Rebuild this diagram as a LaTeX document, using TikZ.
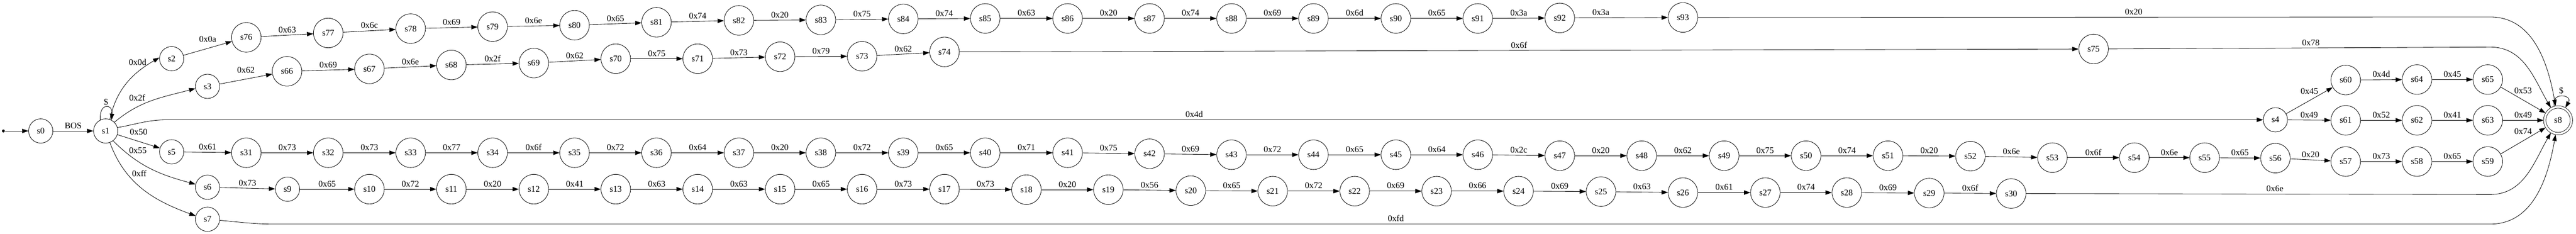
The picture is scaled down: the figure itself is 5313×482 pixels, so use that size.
\documentclass[tikz,border=0pt]{standalone}
\usepackage{fontspec}
\setmainfont{Liberation Serif}
\usetikzlibrary{arrows.meta,positioning,calc}

\begin{document}
\begin{tikzpicture}[
    x=1pt, y=1pt,
    >={Triangle[length=13pt, width=9pt]},
    line width=0.9pt,
    font=\fontsize{18}{21}\selectfont,
    state_node/.style={draw, circle, minimum size=50pt, inner sep=0pt},
    wide_node/.style={state_node, minimum size=61pt},
    final_node/.style={draw, circle, double, double distance=4pt, minimum size=55pt, inner sep=0pt, outer sep=2.5pt},
    start_node/.style={circle, fill, inner sep=0pt, minimum size=6pt},
    trans_edge/.style={->},
    edge_label/.style={above, inner sep=4.5pt},
    high_label/.style={edge_label, yshift=8pt}
]
\useasboundingbox (0,0) rectangle (5313,-482);

% --- NODES ---

% Entry
\node[start_node] (start) at (7,-270) {};
\node[state_node] (s0) at (84,-270) {s0};
\node[state_node] (s1) at (218,-270) {s1};

% Branch heads
\node[state_node] (s2) at (354,-121) {s2};
\node[state_node] (s3) at (428,-178) {s3};
\node[state_node] (s5) at (354,-313) {s5};
\node[state_node] (s6) at (428,-386) {s6};
\node[state_node] (s7) at (428,-452) {s7};

% ROW 1: 0x0d branch
\node[wide_node] (s76) at (508,-77) {s76};
\node[wide_node] (s77) at (677,-68) {s77};
\node[wide_node] (s78) at (847,-59) {s78};
\node[wide_node] (s79) at (1016,-55) {s79};
\node[wide_node] (s80) at (1185,-52) {s80};
\node[wide_node] (s81) at (1354,-46) {s81};
\node[wide_node] (s82) at (1524,-42) {s82};
\node[wide_node] (s83) at (1693,-41) {s83};
\node[wide_node] (s84) at (1863,-39) {s84};
\node[wide_node] (s85) at (2032,-38) {s85};
\node[wide_node] (s86) at (2202,-38) {s86};
\node[wide_node] (s87) at (2371,-38) {s87};
\node[wide_node] (s88) at (2540,-38) {s88};
\node[wide_node] (s89) at (2709,-38) {s89};
\node[wide_node] (s90) at (2879,-38) {s90};
\node[wide_node] (s91) at (3048,-38) {s91};
\node[wide_node] (s92) at (3217,-37) {s92};
\node[wide_node] (s93) at (3471,-36) {s93};

% ROW 2: 0x2f branch
\node[wide_node] (s66) at (592,-147) {s66};
\node[wide_node] (s67) at (762,-142) {s67};
\node[wide_node] (s68) at (931,-134) {s68};
\node[wide_node] (s69) at (1101,-130) {s69};
\node[wide_node] (s70) at (1270,-121) {s70};
\node[wide_node] (s71) at (1439,-121) {s71};
\node[wide_node] (s72) at (1609,-117) {s72};
\node[wide_node] (s73) at (1778,-116) {s73};
\node[wide_node] (s74) at (1948,-107) {s74};
\node[wide_node] (s75) at (4318,-101) {s75};

% ROW 3: 0x4d branch
\node[state_node] (s4) at (4693,-247) {s4};
\node[wide_node] (s60) at (4838,-165) {s60};
\node[wide_node] (s64) at (4985,-164) {s64};
\node[wide_node] (s65) at (5131,-164) {s65};
\node[wide_node] (s61) at (4838,-248) {s61};
\node[wide_node] (s62) at (4985,-248) {s62};
\node[wide_node] (s63) at (5131,-248) {s63};

% ROW 4: 0x50 branch
\node[wide_node] (s31) at (508,-315) {s31};
\node[wide_node] (s32) at (677,-315) {s32};
\node[wide_node] (s33) at (847,-315) {s33};
\node[wide_node] (s34) at (1016,-315) {s34};
\node[wide_node] (s35) at (1185,-315) {s35};
\node[wide_node] (s36) at (1354,-315) {s36};
\node[wide_node] (s37) at (1524,-315) {s37};
\node[wide_node] (s38) at (1693,-315) {s38};
\node[wide_node] (s39) at (1863,-315) {s39};
\node[wide_node] (s40) at (2032,-315) {s40};
\node[wide_node] (s41) at (2202,-315) {s41};
\node[wide_node] (s42) at (2371,-317) {s42};
\node[wide_node] (s43) at (2540,-319) {s43};
\node[wide_node] (s44) at (2709,-319) {s44};
\node[wide_node] (s45) at (2879,-319) {s45};
\node[wide_node] (s46) at (3048,-319) {s46};
\node[wide_node] (s47) at (3217,-321) {s47};
\node[wide_node] (s48) at (3386,-321) {s48};
\node[wide_node] (s49) at (3556,-321) {s49};
\node[wide_node] (s50) at (3725,-321) {s50};
\node[wide_node] (s51) at (3894,-321) {s51};
\node[wide_node] (s52) at (4064,-322) {s52};
\node[wide_node] (s53) at (4233,-325) {s53};
\node[wide_node] (s54) at (4402,-325) {s54};
\node[wide_node] (s55) at (4547,-325) {s55};
\node[wide_node] (s56) at (4693,-326) {s56};
\node[wide_node] (s57) at (4838,-333) {s57};
\node[wide_node] (s58) at (4985,-333) {s58};
\node[wide_node] (s59) at (5131,-333) {s59};

% ROW 5: 0x55 branch
\node[state_node] (s9) at (593,-390) {s9};
\node[wide_node] (s10) at (762,-390) {s10};
\node[wide_node] (s11) at (931,-390) {s11};
\node[wide_node] (s12) at (1101,-390) {s12};
\node[wide_node] (s13) at (1270,-390) {s13};
\node[wide_node] (s14) at (1439,-390) {s14};
\node[wide_node] (s15) at (1609,-390) {s15};
\node[wide_node] (s16) at (1778,-390) {s16};
\node[wide_node] (s17) at (1948,-390) {s17};
\node[wide_node] (s18) at (2117,-391) {s18};
\node[wide_node] (s19) at (2286,-391) {s19};
\node[wide_node] (s20) at (2456,-393) {s20};
\node[wide_node] (s21) at (2625,-394) {s21};
\node[wide_node] (s22) at (2794,-394) {s22};
\node[wide_node] (s23) at (2963,-394) {s23};
\node[wide_node] (s24) at (3132,-394) {s24};
\node[wide_node] (s25) at (3302,-395) {s25};
\node[wide_node] (s26) at (3471,-397) {s26};
\node[wide_node] (s27) at (3641,-397) {s27};
\node[wide_node] (s28) at (3809,-397) {s28};
\node[wide_node] (s29) at (3979,-398) {s29};
\node[wide_node] (s30) at (4148,-399) {s30};

% Accepting state
\node[final_node] (s8) at (5276,-248) {s8};

% Bends of the long edges
\coordinate (k4) at (345,-247);
\coordinate (k7a) at (567,-462);
\coordinate (k7b) at (5136,-462);
\coordinate (k93) at (5136,-35);
\coordinate (k75) at (5136,-97);
\coordinate (k30) at (5136,-401);

% --- EDGES ---

% 1. Entry
\draw[trans_edge] (start) -- (s0);
\draw[trans_edge] (s0) -- node[edge_label] {BOS} (s1);
\draw[trans_edge] (s1.116) to[out=95, in=85, looseness=3.9] node[above, inner sep=3pt] {\$} (s1.62);

% 2. Fan-out of s1
\draw[trans_edge] (s1.70) to[out=78, in=210] node[pos=0.83, above left, inner sep=0pt] {0x0d} (s2.175);
\draw[trans_edge] (s1.45) to[out=40, in=195] node[pos=0.3, above, inner sep=12pt] {0x2f} (s3.190);
\draw[trans_edge] (s1.16) to[out=10, in=180] (k4) -- node[edge_label, pos=0.49] {0x4d} (s4);
\draw[trans_edge] (s1) -- node[high_label] {0x50} (s5);
\draw[trans_edge] (s1.-53) to[out=-45, in=165] node[pos=0.2, above right, inner sep=1.5pt] {0x55} (s6.166);
\draw[trans_edge] (s1.-70) to[out=-70, in=160] node[pos=0.35, above right, inner sep=2pt] {0xff} (s7.164);

% 3. Row 1
\draw[trans_edge] (s2) -- node[high_label] {0x0a} (s76);
\draw[trans_edge] (s76) -- node[edge_label] {0x63} (s77);
\draw[trans_edge] (s77) -- node[edge_label] {0x6c} (s78);
\draw[trans_edge] (s78) -- node[edge_label] {0x69} (s79);
\draw[trans_edge] (s79) -- node[edge_label] {0x6e} (s80);
\draw[trans_edge] (s80) -- node[edge_label] {0x65} (s81);
\draw[trans_edge] (s81) -- node[edge_label] {0x74} (s82);
\draw[trans_edge] (s82) -- node[edge_label] {0x20} (s83);
\draw[trans_edge] (s83) -- node[edge_label] {0x75} (s84);
\draw[trans_edge] (s84) -- node[edge_label] {0x74} (s85);
\draw[trans_edge] (s85) -- node[edge_label] {0x63} (s86);
\draw[trans_edge] (s86) -- node[edge_label] {0x20} (s87);
\draw[trans_edge] (s87) -- node[edge_label] {0x74} (s88);
\draw[trans_edge] (s88) -- node[edge_label] {0x69} (s89);
\draw[trans_edge] (s89) -- node[edge_label] {0x6d} (s90);
\draw[trans_edge] (s90) -- node[edge_label] {0x65} (s91);
\draw[trans_edge] (s91) -- node[edge_label] {0x3a} (s92);
\draw[trans_edge] (s92) -- node[edge_label, pos=0.28] {0x3a} (s93);
\draw[trans_edge] (s93) -- node[edge_label, pos=0.55] {0x20} (k93) to[out=0, in=100] (s8);

% 4. Row 2
\draw[trans_edge] (s3) -- node[high_label] {0x62} (s66);
\draw[trans_edge] (s66) -- node[edge_label] {0x69} (s67);
\draw[trans_edge] (s67) -- node[edge_label] {0x6e} (s68);
\draw[trans_edge] (s68) -- node[edge_label] {0x2f} (s69);
\draw[trans_edge] (s69) -- node[edge_label] {0x62} (s70);
\draw[trans_edge] (s70) -- node[edge_label] {0x75} (s71);
\draw[trans_edge] (s71) -- node[edge_label] {0x73} (s72);
\draw[trans_edge] (s72) -- node[edge_label] {0x79} (s73);
\draw[trans_edge] (s73) -- node[edge_label] {0x62} (s74);
\draw[trans_edge] (s74) -- node[edge_label] {0x6f} (s75);
\draw[trans_edge] (s75) -- node[edge_label, pos=0.53] {0x78} (k75) to[out=0, in=120] (s8);

% 5. Row 3
\draw[trans_edge] (s4) -- node[high_label] {0x45} (s60);
\draw[trans_edge] (s4) -- node[edge_label] {0x49} (s61);
\draw[trans_edge] (s60) -- node[edge_label] {0x4d} (s64);
\draw[trans_edge] (s64) -- node[edge_label] {0x45} (s65);
\draw[trans_edge] (s65) -- node[high_label] {0x53} (s8);
\draw[trans_edge] (s61) -- node[edge_label] {0x52} (s62);
\draw[trans_edge] (s62) -- node[edge_label] {0x41} (s63);
\draw[trans_edge] (s63) -- node[edge_label] {0x49} (s8);

% 6. Row 4
\draw[trans_edge] (s5) -- node[edge_label] {0x61} (s31);
\draw[trans_edge] (s31) -- node[edge_label] {0x73} (s32);
\draw[trans_edge] (s32) -- node[edge_label] {0x73} (s33);
\draw[trans_edge] (s33) -- node[edge_label] {0x77} (s34);
\draw[trans_edge] (s34) -- node[edge_label] {0x6f} (s35);
\draw[trans_edge] (s35) -- node[edge_label] {0x72} (s36);
\draw[trans_edge] (s36) -- node[edge_label] {0x64} (s37);
\draw[trans_edge] (s37) -- node[edge_label] {0x20} (s38);
\draw[trans_edge] (s38) -- node[edge_label] {0x72} (s39);
\draw[trans_edge] (s39) -- node[edge_label] {0x65} (s40);
\draw[trans_edge] (s40) -- node[edge_label] {0x71} (s41);
\draw[trans_edge] (s41) -- node[edge_label] {0x75} (s42);
\draw[trans_edge] (s42) -- node[edge_label] {0x69} (s43);
\draw[trans_edge] (s43) -- node[edge_label] {0x72} (s44);
\draw[trans_edge] (s44) -- node[edge_label] {0x65} (s45);
\draw[trans_edge] (s45) -- node[edge_label] {0x64} (s46);
\draw[trans_edge] (s46) -- node[edge_label] {0x2c} (s47);
\draw[trans_edge] (s47) -- node[edge_label] {0x20} (s48);
\draw[trans_edge] (s48) -- node[edge_label] {0x62} (s49);
\draw[trans_edge] (s49) -- node[edge_label] {0x75} (s50);
\draw[trans_edge] (s50) -- node[edge_label] {0x74} (s51);
\draw[trans_edge] (s51) -- node[edge_label] {0x20} (s52);
\draw[trans_edge] (s52) -- node[edge_label] {0x6e} (s53);
\draw[trans_edge] (s53) -- node[edge_label] {0x6f} (s54);
\draw[trans_edge] (s54) -- node[edge_label] {0x6e} (s55);
\draw[trans_edge] (s55) -- node[edge_label] {0x65} (s56);
\draw[trans_edge] (s56) -- node[edge_label] {0x20} (s57);
\draw[trans_edge] (s57) -- node[edge_label] {0x73} (s58);
\draw[trans_edge] (s58) -- node[edge_label] {0x65} (s59);
\draw[trans_edge] (s59) -- node[high_label] {0x74} (s8);

% 7. Row 5
\draw[trans_edge] (s6) -- node[edge_label] {0x73} (s9);
\draw[trans_edge] (s9) -- node[edge_label] {0x65} (s10);
\draw[trans_edge] (s10) -- node[edge_label] {0x72} (s11);
\draw[trans_edge] (s11) -- node[edge_label] {0x20} (s12);
\draw[trans_edge] (s12) -- node[edge_label] {0x41} (s13);
\draw[trans_edge] (s13) -- node[edge_label] {0x63} (s14);
\draw[trans_edge] (s14) -- node[edge_label] {0x63} (s15);
\draw[trans_edge] (s15) -- node[edge_label] {0x65} (s16);
\draw[trans_edge] (s16) -- node[edge_label] {0x73} (s17);
\draw[trans_edge] (s17) -- node[edge_label] {0x73} (s18);
\draw[trans_edge] (s18) -- node[edge_label] {0x20} (s19);
\draw[trans_edge] (s19) -- node[edge_label] {0x56} (s20);
\draw[trans_edge] (s20) -- node[edge_label] {0x65} (s21);
\draw[trans_edge] (s21) -- node[edge_label] {0x72} (s22);
\draw[trans_edge] (s22) -- node[edge_label] {0x69} (s23);
\draw[trans_edge] (s23) -- node[edge_label] {0x66} (s24);
\draw[trans_edge] (s24) -- node[edge_label] {0x69} (s25);
\draw[trans_edge] (s25) -- node[edge_label] {0x63} (s26);
\draw[trans_edge] (s26) -- node[edge_label] {0x61} (s27);
\draw[trans_edge] (s27) -- node[edge_label] {0x74} (s28);
\draw[trans_edge] (s28) -- node[edge_label] {0x69} (s29);
\draw[trans_edge] (s29) -- node[edge_label] {0x6f} (s30);
\draw[trans_edge] (s30) -- node[edge_label, pos=0.536] {0x6e} (k30) to[out=0, in=-120] (s8);

% 8. Bottom edge and accepting loop
\draw[trans_edge] (s7) to[out=-5, in=180] (k7a) -- node[edge_label, pos=0.506] {0xfd} (k7b) to[out=0, in=-100] (s8);
\draw[trans_edge] (s8) to[out=105, in=60, looseness=3.5] node[above, inner sep=4pt] {\$} (s8);

\end{tikzpicture}
\end{document}
